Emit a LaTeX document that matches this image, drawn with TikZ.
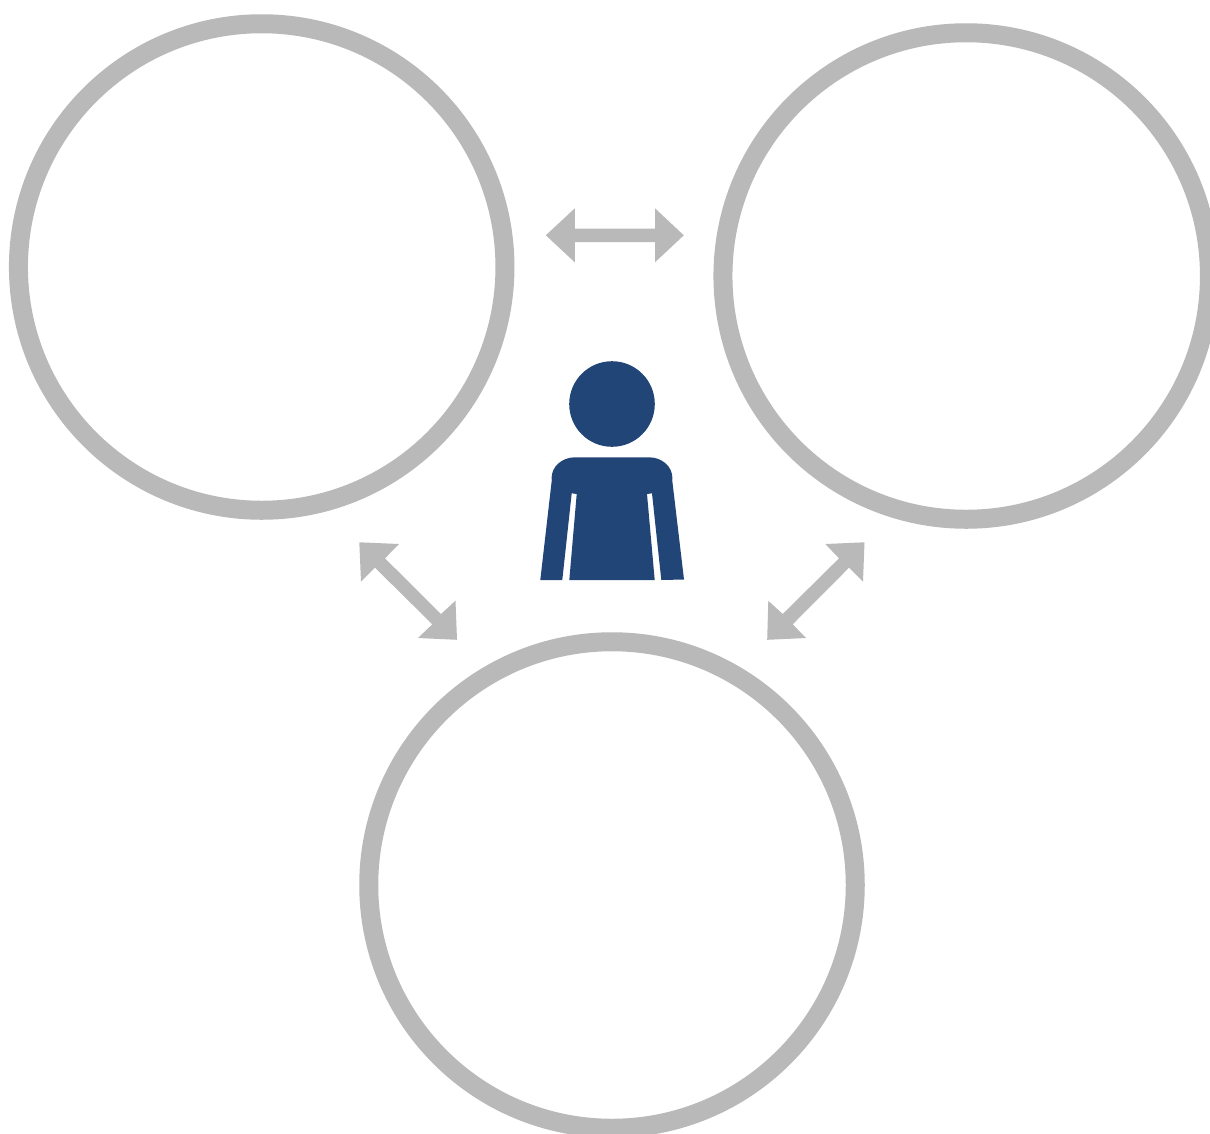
\documentclass[tikz,border=0pt]{standalone}
\definecolor{ringgray}{HTML}{B9B9B9}
\definecolor{personblue}{HTML}{224578}
\tikzset{
  ring/.style={draw=ringgray,line width=19pt,fill=white,circle,minimum size=486.5pt,inner sep=0pt,outer sep=0pt},
  blockarrow/.style={fill=ringgray,draw=none},
  person/.style={fill=personblue,draw=none}
}
\begin{document}
\begin{tikzpicture}[x=1pt,y=-1pt]
\useasboundingbox (0,0) rectangle (1210,1133);
\clip (0,0) rectangle (1210,1133);
\node[ring] (left) at (261.7,267) {};
\node[ring] (right) at (966.2,276) {};
\node[ring] (bottom) at (612,885) {};
% arrows
\fill[blockarrow] (545.8,235.3) -- (574.8,208.3) -- (574.8,228.6) -- (655,228.6) -- (655,208.3) -- (683.8,235.3) -- (655,262.3) -- (655,242.2) -- (574.8,242.2) -- (574.8,262.3) -- cycle;
\fill[blockarrow] (359.3,542.3) -- (399,544) -- (385,558.3) -- (441,614) -- (455.5,600.7) -- (457,639.8) -- (418,638) -- (432.3,624.3) -- (375,567.7) -- (361,581.7) -- cycle;
\fill[blockarrow] (864.5,542.3) -- (863,581.7) -- (849,567.7) -- (792.7,624.3) -- (806,638) -- (767.2,639.8) -- (768.3,600.7) -- (782.7,614) -- (839,558.3) -- (825.3,544) -- cycle;
% person
\fill[person] (612,404) circle[radius=42.8];
\fill[person] (540.3,580) -- (551.8,480) -- (551.6,478) .. controls (551.6,466.5) and (562,457.3) .. (575,457.3) -- (649,457.3) .. controls (662,457.3) and (672.4,466.5) .. (672.4,478) -- (672.2,480) -- (684,579.5) -- (661.3,580) -- (652,493.3) -- (647,494) -- (654.7,580) -- (569.3,580) -- (576.7,494) -- (571.7,493.3) -- (562.3,580) -- cycle;
\end{tikzpicture}
\end{document}
